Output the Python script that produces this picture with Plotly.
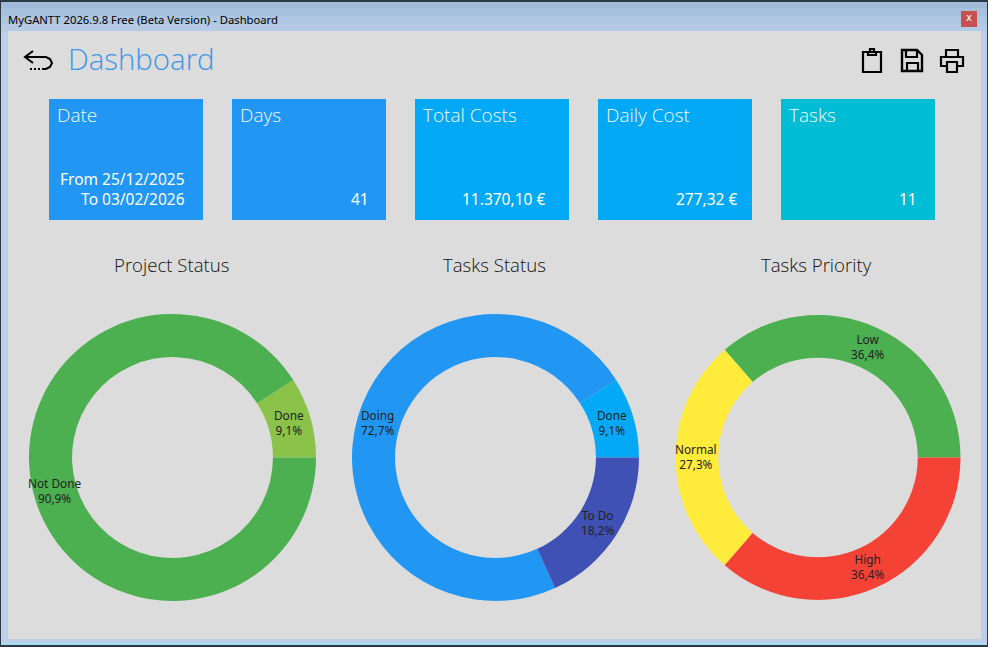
import math
import plotly.graph_objects as go

W, H = 988, 647
FONT = "Noto Sans"
LIGHT = "Open Sans"

tile_titles = ["Date", "Days", "Total Costs", "Daily Cost", "Tasks"]
tile_values = ["From 25/12/2025<br>To 03/02/2026", "41", "11.370,10 €", "277,32 €", "11"]
tile_colors = ["#2196F3", "#2196F3", "#03A9F4", "#03A9F4", "#00BCD4"]
tile_lefts = [49, 232, 415, 598, 781]
tile_value_rights = [187, 371, 547, 740, 919]

chart_titles = ["Project Status", "Tasks Status", "Tasks Priority"]
project_labels = ["Done", "Not Done"]
project_values = [1, 10]
project_colors = ["#8BC34A", "#4CAF50"]
status_labels = ["Done", "Doing", "To Do"]
status_values = [1, 8, 2]
status_colors = ["#03A9F4", "#2196F3", "#3F51B5"]
priority_labels = ["Low", "Normal", "High"]
priority_values = [4, 3, 4]
priority_colors = ["#4CAF50", "#FFEB3B", "#F44336"]


def px(x):
    return x / W


def py(y):
    return 1 - y / H


def rect(x0, y0, x1, y1, color):
    return dict(type="rect", xref="paper", yref="paper", x0=px(x0), x1=px(x1),
                y0=py(y1), y1=py(y0), fillcolor=color, line_width=0, layer="below")


def path(points, width=2.2, color="#000000", closed=False, dash="solid"):
    d = "M" + " L".join(f"{px(x):.5f},{py(y):.5f}" for x, y in points) + (" Z" if closed else "")
    return dict(type="path", xref="paper", yref="paper", path=d,
                line=dict(color=color, width=width, dash=dash), layer="above")


shapes = [
    rect(0, 0, W, H, "#2B3A45"),
    rect(1, 2, W - 1, 645, "#BBCFE8"),
    rect(1, 2, W - 1, 8, "#9FBBD9"),
    rect(1, 8, W - 1, 16, "#A6C0DD"),
    rect(1, 16, W - 1, 24, "#AEC6E1"),
    rect(1, 24, W - 1, 31, "#B5CBE5"),
    rect(1, 643, W - 1, 645, "#A8DCF0"),
    rect(8, 31, 981, 639, "#DCDCDC"),
    rect(961, 11, 977, 27, "#C75050"),
]
for left, color in zip(tile_lefts, tile_colors):
    shapes.append(rect(left, 99, left + 154, 220, color))

shapes += [
    # back arrow
    path([(25, 57), (46, 57), (50, 59), (52, 63), (50, 67), (46, 69), (42, 69)], 2),
    path([(33, 51), (25, 57), (33, 63)], 2),
    path([(30, 69), (41, 69)], 2, dash="2px,2px"),
    # clipboard
    path([(863, 52), (881, 52), (881, 72), (863, 72)], 2.2, closed=True),
    path([(868, 55), (868, 52), (870, 52), (870, 49), (874, 49), (874, 52), (876, 52), (876, 55)], 2.2, closed=True),
    # save
    path([(902, 50), (917, 50), (922, 55), (922, 71), (902, 71)], 2.4, closed=True),
    path([(906, 50), (906, 57), (917, 57), (917, 50)], 2.2),
    path([(907, 71), (907, 63), (918, 63), (918, 71)], 2.2),
    # printer
    path([(946, 57), (946, 50), (958, 50), (958, 57)], 2.2),
    path([(947, 66), (941, 66), (941, 57), (963, 57), (963, 66), (957, 66)], 2.2),
    path([(947, 62), (957, 62), (957, 72), (947, 72)], 2.2, closed=True),
]

annotations = [
    dict(text="MyGANTT 2026.9.8 Free (Beta Version) - Dashboard", x=px(6), y=py(19.5), xanchor="left",
         yanchor="middle", showarrow=False, font=dict(family=FONT, size=11.25, color="#000000")),
    dict(text="x", x=px(969), y=py(18), xanchor="center", yanchor="middle", showarrow=False,
         font=dict(family="DejaVu Sans", size=10, color="#FFFFFF")),
    dict(text="Dashboard", x=px(66), y=py(59), xanchor="left", yanchor="middle", showarrow=False,
         font=dict(family=LIGHT, size=29.4, weight=300, color="#3D96E8")),
]
for left, right, title, value in zip(tile_lefts, tile_value_rights, tile_titles, tile_values):
    annotations.append(dict(text=title, x=px(left + 6), y=py(115.5), xanchor="left", yanchor="middle",
                            showarrow=False, font=dict(family=LIGHT, size=19, weight=300, color="#F2F9FF")))
    annotations.append(dict(text=value, x=px(right), y=py(212), xanchor="right", yanchor="bottom",
                            align="right", showarrow=False,
                            font=dict(family=FONT, size=15.5, color="#FFFFFF")))

charts = [
    (172.5, 143.5, project_labels, project_values, project_colors),
    (495.5, 143.5, status_labels, status_values, status_colors),
    (818, 142.5, priority_labels, priority_values, priority_colors),
]
CY = 457.5
HOLE = 0.70
fig = go.Figure()
for (cx, r, labels, values, colors), title in zip(charts, chart_titles):
    total = sum(values)
    fig.add_trace(go.Pie(
        labels=labels, values=values, hole=HOLE, sort=False, direction="counterclockwise",
        rotation=90 - 360 * values[0] / total, textinfo="none", showlegend=False,
        hoverinfo="label+percent",
        marker=dict(colors=colors, line=dict(width=0)),
        domain=dict(x=[px(cx - r), px(cx + r)], y=[py(CY + r), py(CY - r)]),
    ))
    annotations.append(dict(text=title, x=px(cx - 1.5), y=py(264.5), xanchor="center", yanchor="middle",
                            showarrow=False, font=dict(family=LIGHT, size=18.6, weight=300, color="#111111")))
    cum = 0
    mid_r = r * (1 + HOLE) / 2
    for label, value in zip(labels, values):
        angle = 2 * math.pi * (cum + value / 2) / total
        cum += value
        pct = f"{100 * value / total:.1f}%".replace(".", ",")
        annotations.append(dict(text=f"{label}<br>{pct}", x=px(cx - 0.5 + mid_r * math.cos(angle)),
                                y=py(CY - 1 - mid_r * math.sin(angle)), xanchor="center", yanchor="middle",
                                showarrow=False, font=dict(family=FONT, size=11.8, color="#222222")))

fig.update_layout(width=W, height=H, margin=dict(l=0, r=0, t=0, b=0), paper_bgcolor="#DCDCDC",
                  shapes=shapes, annotations=annotations, font=dict(family=FONT))
fig.write_html("out.html", config={"displayModeBar": False},
               post_script="document.body.style.margin='0';document.body.style.overflow='hidden';")
